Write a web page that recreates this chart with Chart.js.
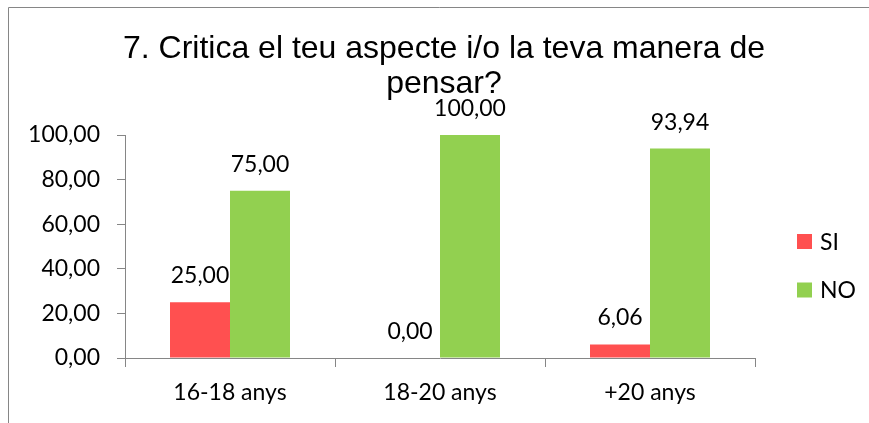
<!DOCTYPE html>
<html>
<head>
<meta charset="utf-8">
<script src="https://cdn.jsdelivr.net/npm/chart.js@4/dist/chart.umd.min.js"></script>
<style>
  html, body { margin: 0; padding: 0; background: #fff; }
  #wrap { width: 869px; height: 423px; position: relative; }
</style>
</head>
<body>
<div id="wrap"><canvas id="c" width="869" height="423"></canvas></div>
<script>
// ---- data ----
const categories = ['16-18 anys', '18-20 anys', '+20 anys'];
const seriesNames = ['SI', 'NO'];
const siValues = [25.00, 0.00, 6.06];
const noValues = [75.00, 100.00, 93.94];
const yTicks = [0, 20, 40, 60, 80, 100];
const titleLines = ['7. Critica el teu aspecte i/o la teva manera de', 'pensar?'];

// ---- styles ----
const RED = '#FF5050';
const GREEN = '#92D050';
const AXIS = '#868686';
const LABEL_FONT = 'Lato, "Open Sans", sans-serif';
const fmt = v => v.toFixed(2).replace('.', ',');

const framePlugin = {
  id: 'frame',
  beforeDraw(chart) {
    const ctx = chart.ctx;
    ctx.save();
    ctx.fillStyle = '#fff';
    ctx.fillRect(0, 0, chart.width, chart.height);
    ctx.strokeStyle = AXIS;
    ctx.lineWidth = 1;
    ctx.beginPath();
    ctx.moveTo(8.5, chart.height + 5);
    ctx.lineTo(8.5, 7.5);
    ctx.lineTo(chart.width + 5, 7.5);
    ctx.stroke();
    ctx.restore();
  }
};

const titlePlugin = {
  id: 'customTitle',
  afterDraw(chart) {
    const ctx = chart.ctx;
    ctx.save();
    ctx.fillStyle = '#000';
    ctx.font = '32px "Liberation Sans", Arial, sans-serif';
    ctx.textAlign = 'center';
    ctx.textBaseline = 'alphabetic';
    const cx = 444;
    titleLines.forEach((t, i) => ctx.fillText(t, cx, 58 + i * 35));
    ctx.restore();
  }
};

const valueLabels = {
  id: 'valueLabels',
  afterDatasetsDraw(chart) {
    const ctx = chart.ctx;
    ctx.save();
    ctx.fillStyle = '#000';
    ctx.font = '23px ' + LABEL_FONT;
    ctx.textAlign = 'center';
    ctx.textBaseline = 'alphabetic';
    chart.data.datasets.forEach((ds, di) => {
      const meta = chart.getDatasetMeta(di);
      meta.data.forEach((el, i) => {
        ctx.fillText(fmt(ds.data[i]), el.x, el.y - 19);
      });
    });
    ctx.restore();
  }
};

const legendPlugin = {
  id: 'customLegend',
  afterDraw(chart) {
    const ctx = chart.ctx;
    const a = chart.chartArea;
    ctx.save();
    ctx.font = '23px ' + LABEL_FONT;
    ctx.textBaseline = 'middle';
    ctx.textAlign = 'left';
    chart.data.datasets.forEach((ds, i) => {
      const x = a.right + 42;
      const cy = a.top + 106.5 + i * 48.5;
      ctx.fillStyle = ds.backgroundColor;
      ctx.fillRect(x, cy - 7.5, 15, 15);
      ctx.fillStyle = '#000';
      ctx.fillText(ds.label, x + 23, cy + 1);
    });
    ctx.restore();
  }
};

new Chart(document.getElementById('c'), {
  type: 'bar',
  data: {
    labels: categories,
    datasets: [
      { label: seriesNames[0], data: siValues, backgroundColor: RED },
      { label: seriesNames[1], data: noValues, backgroundColor: GREEN }
    ]
  },
  options: {
    responsive: false,
    animation: false,
    devicePixelRatio: 1,
    layout: { padding: { top: 135, right: 114, bottom: 0, left: 0 } },
    datasets: { bar: { categoryPercentage: 0.5714, barPercentage: 1.0 } },
    plugins: {
      legend: { display: false },
      title: { display: false },
      tooltip: { enabled: false }
    },
    scales: {
      x: {
        afterFit(s) { s.height = 65; },
        grid: { display: true, drawOnChartArea: false, offset: true, color: AXIS, tickLength: 9 },
        border: { display: true, color: AXIS, width: 1 },
        ticks: { color: '#000', font: { family: LABEL_FONT, size: 23 }, padding: 12 }
      },
      y: {
        min: 0, max: 100,
        afterFit(s) { s.width = 125; },
        afterBuildTicks(s) { s.ticks = yTicks.map(v => ({ value: v })); },
        grid: { display: true, drawOnChartArea: false, color: AXIS, tickLength: 8 },
        border: { display: true, color: AXIS, width: 1 },
        ticks: { color: '#000', font: { family: LABEL_FONT, size: 23 }, padding: 17, callback: v => fmt(v) }
      }
    }
  },
  plugins: [framePlugin, titlePlugin, valueLabels, legendPlugin]
});
</script>
</body>
</html>
